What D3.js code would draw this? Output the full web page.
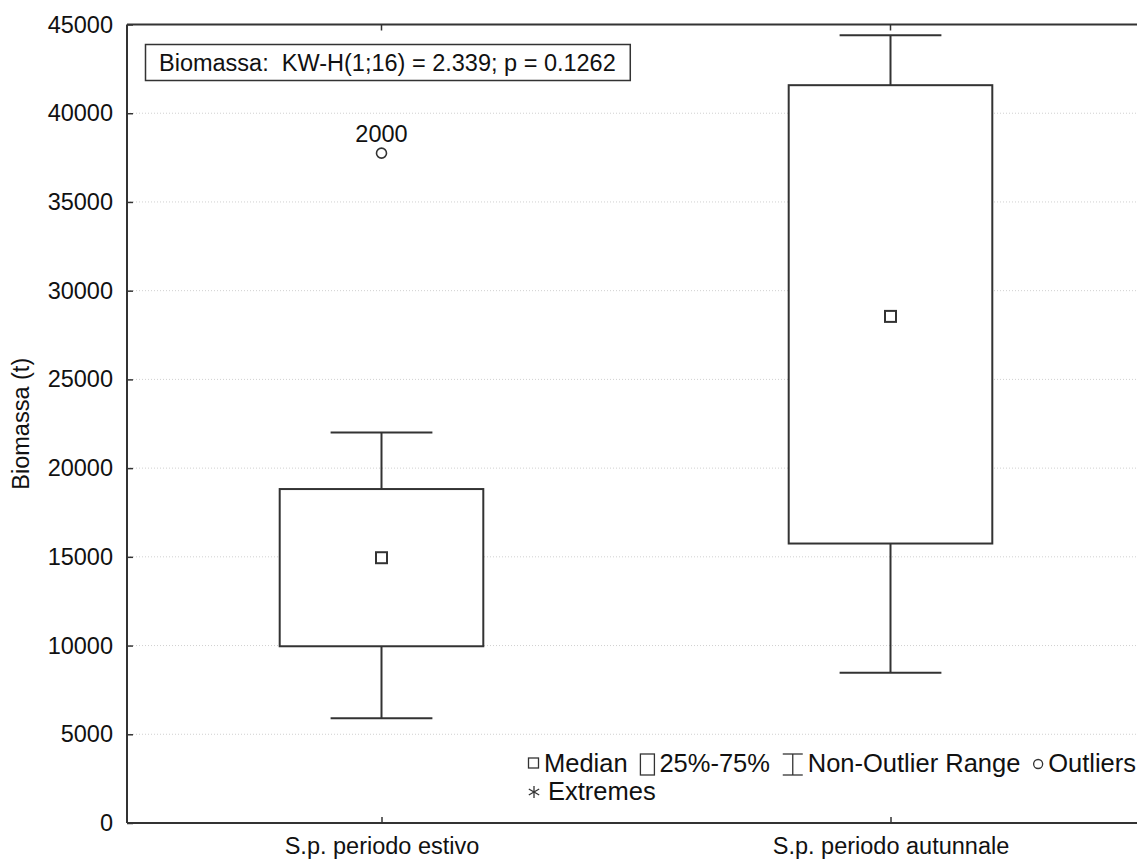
<!DOCTYPE html>
<html>
<head>
<meta charset="utf-8">
<script src="https://cdn.jsdelivr.net/npm/d3@7"></script>
<style>
  html, body { margin: 0; padding: 0; background: #fff; }
  svg { display: block; font-family: Arial, "Liberation Sans", sans-serif; }
  text { fill: #111; white-space: pre; }
</style>
</head>
<body>
<svg id="chart" width="1137" height="861"></svg>
<script>
// Box-plot summary per group
const categories = ["S.p. periodo estivo", "S.p. periodo autunnale"];
const medians    = [14950, 28550];
const q1Values   = [9960, 15750];
const q3Values   = [18820, 41580];
const whiskerMin = [5900, 8470];
const whiskerMax = [22000, 44400];
const outliers   = [{ group: "S.p. periodo estivo", value: 37750, label: "2000" }];
const yTicks     = [0, 5000, 10000, 15000, 20000, 25000, 30000, 35000, 40000, 45000];
const testLabel  = "Biomassa:  KW-H(1;16) = 2.339; p = 0.1262";
const yTitle     = "Biomassa (t)";
const legendItems = ["median", "box", "range", "outlier"];
const legendLabels = ["Median", "25%-75%", "Non-Outlier Range", "Outliers"];

const svg = d3.select("#chart");
const W = 1137;
const plotLeft = 127, plotTop = 24.5, plotBottom = 823, rightRange = 1145;
const FS = 23.5, FSL = 25.5;
const FF = "Arial, 'Liberation Sans', sans-serif";
const ink = "#333";

const y = d3.scaleLinear().domain([0, 45000]).range([plotBottom, plotTop]);
const x = d3.scalePoint().domain(categories).range([plotLeft, rightRange]).padding(0.5);
const step = x.step();
const boxW = step * 0.4, capW = step * 0.2;

// dotted grid
svg.append("g").selectAll("line")
  .data(yTicks.filter(t => t > 0 && t < 45000))
  .join("line")
  .attr("x1", plotLeft).attr("x2", W)
  .attr("y1", d => y(d)).attr("y2", d => y(d))
  .attr("stroke", "#d0d0d0").attr("stroke-width", 1)
  .attr("stroke-dasharray", "1,2");

// y axis with inward ticks
const yAxis = d3.axisLeft(y).tickValues(yTicks).tickSize(-6).tickPadding(14).tickFormat(d3.format("d"));
const gy = svg.append("g").attr("transform", `translate(${plotLeft},0)`).call(yAxis);
gy.select(".domain").remove();
gy.selectAll(".tick line").attr("stroke", ink).attr("stroke-width", 1.5);
gy.selectAll(".tick text").attr("font-size", FS).attr("fill", "#111").attr("font-family", FF);

// x axis at bottom with inward ticks
const xAxis = d3.axisBottom(x).tickSize(-6).tickPadding(14);
const gx = svg.append("g").attr("transform", `translate(0,${plotBottom})`).call(xAxis);
gx.select(".domain").remove();
gx.selectAll(".tick line").attr("stroke", ink).attr("stroke-width", 1.5);
gx.selectAll(".tick text").attr("font-size", FS).attr("fill", "#111").attr("font-family", FF);

// mirrored ticks on the top edge
svg.append("g").selectAll("line").data(categories).join("line")
  .attr("x1", d => x(d)).attr("x2", d => x(d))
  .attr("y1", plotTop).attr("y2", plotTop + 6)
  .attr("stroke", ink).attr("stroke-width", 1.5);

// frame lines
svg.append("line").attr("x1", plotLeft).attr("x2", plotLeft).attr("y1", plotTop).attr("y2", plotBottom)
  .attr("stroke", ink).attr("stroke-width", 2);
svg.append("line").attr("x1", plotLeft).attr("x2", W).attr("y1", plotTop).attr("y2", plotTop)
  .attr("stroke", ink).attr("stroke-width", 2);
svg.append("line").attr("x1", plotLeft).attr("x2", W).attr("y1", plotBottom).attr("y2", plotBottom)
  .attr("stroke", ink).attr("stroke-width", 2);

// y title
svg.append("text")
  .attr("transform", `translate(29,${(plotTop + plotBottom) / 2}) rotate(-90)`)
  .attr("text-anchor", "middle").attr("font-size", FS).text(yTitle);

// boxes
const groups = categories.map((c, i) => ({
  c, med: medians[i], q1: q1Values[i], q3: q3Values[i], lo: whiskerMin[i], hi: whiskerMax[i]
}));
const g = svg.append("g").attr("stroke", ink).attr("stroke-width", 2).attr("fill", "none");
groups.forEach(d => {
  const cx = x(d.c);
  g.append("line").attr("x1", cx).attr("x2", cx).attr("y1", y(d.hi)).attr("y2", y(d.q3));
  g.append("line").attr("x1", cx).attr("x2", cx).attr("y1", y(d.q1)).attr("y2", y(d.lo));
  g.append("line").attr("x1", cx - capW / 2).attr("x2", cx + capW / 2).attr("y1", y(d.hi)).attr("y2", y(d.hi));
  g.append("line").attr("x1", cx - capW / 2).attr("x2", cx + capW / 2).attr("y1", y(d.lo)).attr("y2", y(d.lo));
  g.append("rect").attr("x", cx - boxW / 2).attr("y", y(d.q3))
    .attr("width", boxW).attr("height", y(d.q1) - y(d.q3)).attr("fill", "#fff");
  g.append("rect").attr("x", cx - 5.5).attr("y", y(d.med) - 5.5).attr("width", 11).attr("height", 11).attr("fill", "#fff");
});

// outliers
outliers.forEach(o => {
  g.append("circle").attr("cx", x(o.group)).attr("cy", y(o.value)).attr("r", 5).attr("stroke-width", 1.6);
  svg.append("text").attr("x", x(o.group)).attr("y", y(o.value) - 11)
    .attr("text-anchor", "middle").attr("font-size", FS).text(o.label);
});

// test statistic box
const tb = svg.append("g");
const tt = tb.append("text").attr("x", 159).attr("y", 71).attr("font-size", FS).text(testLabel);
const tw = tt.node().getComputedTextLength();
tb.insert("rect", "text").attr("x", 145.5).attr("y", 44.5).attr("width", tw + 28).attr("height", 36)
  .attr("fill", "#fff").attr("stroke", ink).attr("stroke-width", 1.5);

// legend: symbol + label pairs laid out in one row that ends at the right edge
const lg = svg.append("g");
const ly = 772, lStart = 528, lEnd = 1136;
const symW = { median: 11, box: 14, range: 20, outlier: 10 };
const symGap = 5;
const labels = legendLabels.map(s => {
  const t = lg.append("text").attr("y", ly).attr("font-size", FSL).text(s);
  return { node: t, w: t.node().getComputedTextLength() };
});
const used = legendItems.reduce((a, k, i) => a + symW[k] + symGap + labels[i].w, 0);
const itemGap = (lEnd - lStart - used) / (legendItems.length - 1);
let lx = lStart;
legendItems.forEach((k, i) => {
  const s = lg.append("g").attr("stroke", ink).attr("stroke-width", 1.3).attr("fill", "none");
  if (k === "median") {
    s.append("rect").attr("x", lx + 0.5).attr("y", ly - 14).attr("width", 10).attr("height", 10);
  } else if (k === "box") {
    s.append("rect").attr("x", lx).attr("y", ly - 18).attr("width", 14).attr("height", 21);
  } else if (k === "range") {
    s.append("line").attr("x1", lx).attr("x2", lx + 20).attr("y1", ly - 18).attr("y2", ly - 18);
    s.append("line").attr("x1", lx).attr("x2", lx + 20).attr("y1", ly + 3).attr("y2", ly + 3);
    s.append("line").attr("x1", lx + 10).attr("x2", lx + 10).attr("y1", ly - 18).attr("y2", ly + 3);
  } else {
    s.append("circle").attr("cx", lx + 5).attr("cy", ly - 8).attr("r", 4.5);
  }
  lx += symW[k] + symGap;
  labels[i].node.attr("x", lx);
  lx += labels[i].w + itemGap;
});
// extremes row
const ex = 534, ey = 792;
const star = lg.append("g").attr("stroke", ink).attr("stroke-width", 1.3);
[30, 90, 150].forEach(a => {
  const r = a * Math.PI / 180;
  star.append("line").attr("x1", ex - 6 * Math.cos(r)).attr("x2", ex + 6 * Math.cos(r))
    .attr("y1", ey - 6 * Math.sin(r)).attr("y2", ey + 6 * Math.sin(r));
});
lg.append("text").attr("x", 548).attr("y", ly + 28).attr("font-size", FSL).text("Extremes");
</script>
</body>
</html>
